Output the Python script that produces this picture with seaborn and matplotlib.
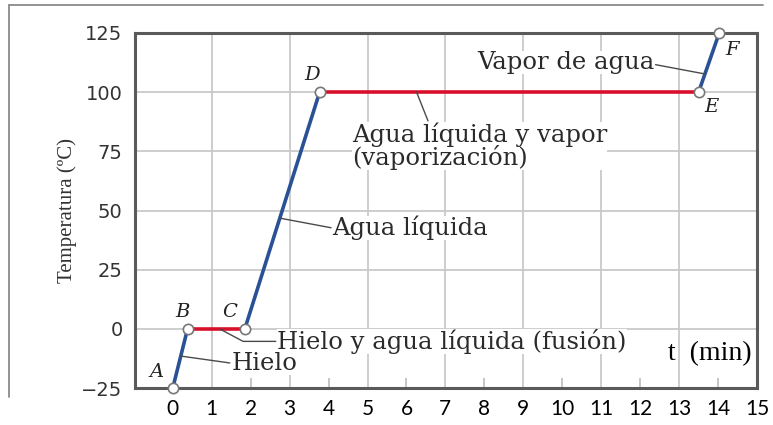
import matplotlib
matplotlib.use("Agg")
import matplotlib.pyplot as plt
import seaborn as sns
import pandas as pd
from matplotlib.lines import Line2D

# ---- data ----
point_names = ["A", "B", "C", "D", "E", "F"]
time_min = [0.0, 0.38, 1.85, 3.77, 13.5, 14.03]
temp_c = [-25, 0, 0, 100, 100, 125]
segment_phase = ["solid", "change", "solid", "change", "solid"]
x_tick_labels = [str(i) for i in range(16)]
y_ticks = [-25, 0, 25, 50, 75, 100, 125]

sns.set_theme(style="white")
plt.rcParams["font.family"] = ["DejaVu Sans"]

fig = plt.figure(figsize=(7.73, 4.25), dpi=100)
ax = fig.add_axes([135 / 773, 1 - 388 / 425, 622 / 773, 355 / 425])

BLUE = "#2a5196"
RED = "#d8102c"
phase_color = {"solid": BLUE, "change": RED}

# segments
for i, ph in enumerate(segment_phase):
    seg = pd.DataFrame({"t": time_min[i:i + 2], "T": temp_c[i:i + 2]})
    sns.lineplot(data=seg, x="t", y="T", color=phase_color[ph], lw=2.6,
                 ax=ax, zorder=3, sort=False)

pts = pd.DataFrame({"t": time_min, "T": temp_c, "name": point_names})
sns.scatterplot(data=pts, x="t", y="T", s=55, color="white",
                edgecolor="#777777", linewidth=1.2, ax=ax, zorder=5, clip_on=False)

# point letters
letter_off = {"A": (-16, 16), "B": (-5, 17), "C": (-15, 17), "D": (-8, 17),
              "E": (13, -15), "F": (13, -17)}
for n, x, y in zip(point_names, time_min, temp_c):
    dx, dy = letter_off[n]
    ax.annotate(n, (x, y), xytext=(dx, dy), textcoords="offset pixels",
                ha="center", va="center", fontsize=14, style="italic",
                family="DejaVu Serif", color="#222222", zorder=6)

# axes setup
ax.set_xlim(-0.97, 15)
ax.set_ylim(-25, 125)
ax.set_xticks(range(16))
ax.set_xticklabels(x_tick_labels)
ax.set_yticks(y_ticks)
ax.set_yticklabels([str(v).replace("-", "\u2212") for v in y_ticks])
ax.tick_params(axis="x", which="both", length=0, pad=8, labelsize=15,
               labelcolor="black")
for lab in ax.get_xticklabels():
    lab.set_family("Lato")
ax.tick_params(axis="y", length=0, pad=9, labelsize=14, labelcolor="#333333")
ax.grid(False)
ax.yaxis.grid(True, which="major", color="#c9c9c9", lw=1.3)
ax.set_axisbelow(True)
for s in ax.spines.values():
    s.set_visible(True)
    s.set_color("#5a5a5a")
    s.set_linewidth(2.2)
ax.set_xlabel("")
ax.set_ylabel("Temperatura (ºC)", family="Liberation Serif", fontsize=15,
              color="#333333", labelpad=3)

# vertical grid at odd minutes, short inner ticks at even minutes
ax.vlines(range(1, 15, 2), 0, 1, transform=ax.get_xaxis_transform(),
          color="#c9c9c9", lw=1.3, zorder=0.5)
ax.vlines(range(2, 15, 2), 0, 0.028, transform=ax.get_xaxis_transform(),
          color="#c0c0c0", lw=1.3, zorder=0.5)

# annotations
tkw = dict(family="DejaVu Serif", fontsize=17.5, color="#2a2a2a",
           bbox=dict(boxstyle="square,pad=0.0", fc="white", ec="none"), zorder=4)
akw = dict(arrowstyle="-", color="#4a4a4a", lw=1.0, shrinkA=1, shrinkB=0)

ax.annotate("Hielo y agua líquida (fusión)", xy=(1.2, 0), xytext=(2.68, -5.3),
            ha="left", va="center",
            arrowprops=dict(relpos=(0, 0.5), connectionstyle="angle,angleA=0,angleB=-28,rad=0", **akw),
            **tkw)
hielo_kw = dict(tkw, zorder=4.5)
ax.annotate("Hielo", xy=(0.2, -11.5), xytext=(1.5, -14.5), ha="left", va="center",
            arrowprops=dict(relpos=(0, 0.5), **akw), **hielo_kw)
ax.annotate("Agua líquida", xy=(2.74, 46.8), xytext=(4.1, 42.6), ha="left", va="center",
            arrowprops=dict(relpos=(0, 0.5), **akw), **tkw)
ax.annotate("Agua líquida y vapor\n(vaporización)", xy=(6.26, 100), xytext=(4.6, 77.3),
            ha="left", va="center", linespacing=0.9,
            arrowprops=dict(relpos=(0.3, 1.0), **akw), **tkw)
ax.annotate("Vapor de agua", xy=(13.66, 107.7), xytext=(12.36, 112.7), ha="right",
            va="center", arrowprops=dict(relpos=(1, 0.4), **akw), **tkw)

ax.text(0.992, 0.098, "t  (min)", transform=ax.transAxes, ha="right", va="center",
        family="Liberation Serif", fontsize=20, color="black", zorder=4)

# outer image frame
fig.add_artist(Line2D([9 / 773, 9 / 773], [1 - 5 / 425, 1 - 397 / 425],
                      color="#8a8a8a", lw=1.3, transform=fig.transFigure))
fig.add_artist(Line2D([9 / 773, 763 / 773], [1 - 5 / 425, 1 - 5 / 425],
                      color="#8a8a8a", lw=1.3, transform=fig.transFigure))

fig.savefig("out.png", dpi=100)
